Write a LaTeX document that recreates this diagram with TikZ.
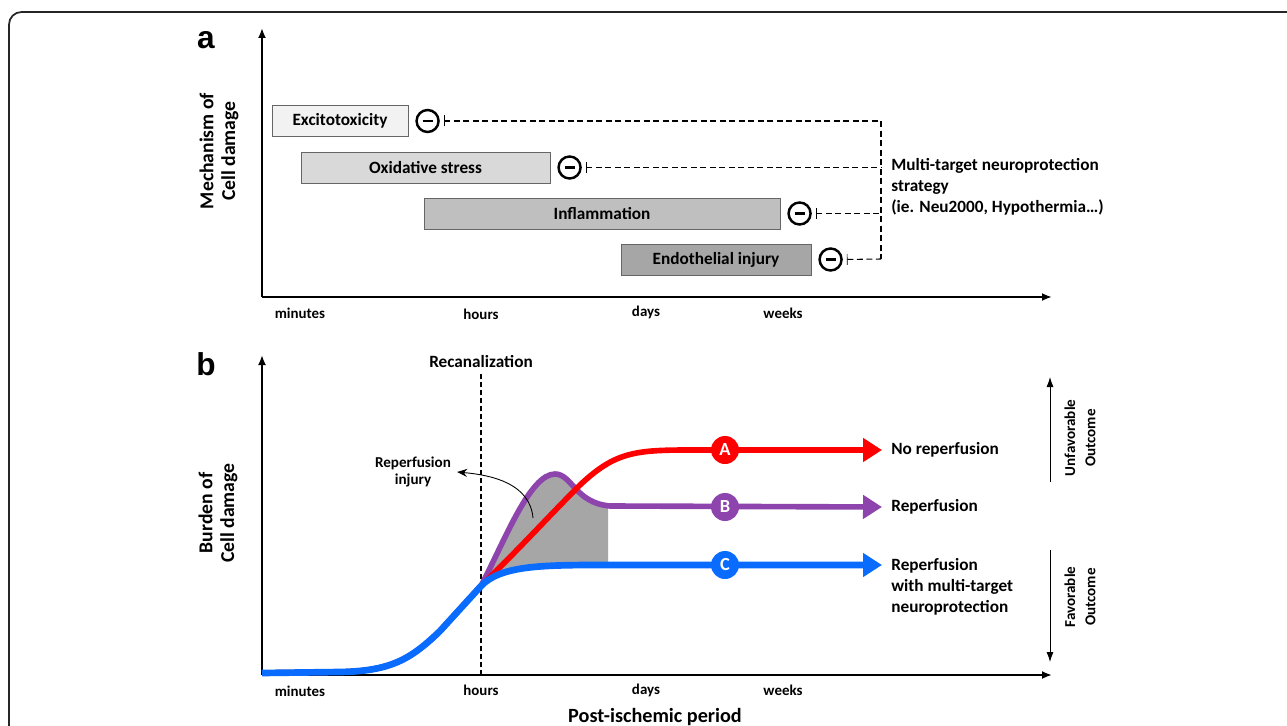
\documentclass[tikz,border=0pt]{standalone}
\usepackage{fontspec}
\setmainfont{Carlito}
\newfontfamily\panelfont{Liberation Sans}
\usetikzlibrary{arrows.meta,positioning,calc}

\newdimen\unitpx
\unitpx=0.02cm
\newcommand{\minusbar}{\rule{0.2cm}{0.055cm}}

\definecolor{mechA}{HTML}{F2F2F2}
\definecolor{mechB}{HTML}{D9D9D9}
\definecolor{mechC}{HTML}{BFBFBF}
\definecolor{mechD}{HTML}{A6A6A6}
\definecolor{curveA}{HTML}{FF0000}
\definecolor{curveB}{HTML}{8E44AD}
\definecolor{curveC}{HTML}{0A6CFF}
\definecolor{injury}{HTML}{A6A6A6}

\tikzset{
  panel/.style={font=\panelfont\bfseries\fontsize{18}{20}\selectfont},
  txt/.style={font=\bfseries\fontsize{9.8}{12}\selectfont},
  tick/.style={font=\bfseries\fontsize{8.5}{10}\selectfont},
  ylab/.style={font=\bfseries\fontsize{11.2}{12.5}\selectfont, rotate=90, align=center},
  small/.style={font=\bfseries\fontsize{8.6}{10.2}\selectfont, align=center},
  axis/.style={line width=1.1pt, -{Latex[length=0.2cm,width=0.16cm]}},
  mech/.style={txt, draw=gray!80!black, line width=0.4pt, minimum height=31\unitpx, inner sep=0pt},
  minus/.style={circle, draw, line width=1.4pt, minimum size=22\unitpx, inner sep=0pt},
  inhib/.style={dash pattern=on 0.12cm off 0.07cm, line width=0.6pt, shorten <=4\unitpx},
  tbar/.style={{Bar[width=0.22cm,line width=0.4pt]}-},
  curve/.style={line width=3.2pt, -{Triangle[length=0.38cm,width=0.46cm]}},
  tag/.style={circle, minimum size=28\unitpx, inner sep=0pt, text=white, font=\bfseries\fontsize{10.5}{12}\selectfont},
  outcome/.style={line width=0.5pt, -{Latex[length=0.2cm,width=0.14cm]}},
}

\begin{document}
\begin{tikzpicture}[x=0.02cm, y=-0.02cm]
            \useasboundingbox (0,0) rectangle (1287,726);
            \draw[line width=1pt, black!85, rounded corners=0.25cm] (9,790) -- (9,12) -- (1340,12);

            % panel a
            \node[panel] (lblA) at (206,40) {a};
            \coordinate (oA) at (262,297);
            \draw[axis] (oA) -- (262,28);
            \draw[axis] (oA) -- (1052,297);
            \node[tick] (tA1) at (300,313) {minutes};
            \node[tick] (tA2) at (481,314) {hours};
            \node[tick] (tA3) at (646,312) {days};
            \node[tick] (tA4) at (783,313) {weeks};
            \node[ylab] (mechLbl) at (219,151) {Mechanism of\\Cell damage};

            \node[mech, fill=mechA, minimum width=136\unitpx] (exc) at (340,121) {Excitotoxicity};
            \node[mech, fill=mechB, minimum width=249\unitpx] (oxi) at (425.5,167.5) {Oxidative stress};
            \node[mech, fill=mechC, minimum width=356\unitpx] (infl) at (602,213.5) {Inflammation};
            \node[mech, fill=mechD, minimum width=190\unitpx] (endo) at (716,259.5) {Endothelial injury};

            \node[minus, right=0.14cm of exc] (m1) {\minusbar};
            \node[minus, right=0.14cm of oxi] (m2) {\minusbar};
            \node[minus, right=0.14cm of infl] (m3) {\minusbar};
            \node[minus, right=0.14cm of endo] (m4) {\minusbar};

            \node[txt, align=left, anchor=west, inner sep=0pt] (strat) at (891,187) {Multi-target neuroprotection\\strategy\\(ie. Neu2000, Hypothermia…)};
            \coordinate (sTop) at (881,121);
            \coordinate (sBot) at (881,259);
            \draw[inhib, tbar] (m1.east) -- (sTop) -- (sBot);
            \draw[inhib, tbar] (m2.east) -- (m2.east -| sTop);
            \draw[inhib, tbar] (m3.east) -- (m3.east -| sTop);
            \draw[inhib, tbar] (m4.east) -- (sBot);

            % panel b
            \node[panel] (lblB) at (206,364) {b};
            \coordinate (oB) at (262,675);
            \draw[axis] (oB) -- (262,355);
            \draw[axis] (oB) -- (1052,675);
            \node[tick] (tB1) at (300,691) {minutes};
            \node[tick] (tB2) at (481,690) {hours};
            \node[tick] (tB3) at (646,690) {days};
            \node[tick] (tB4) at (783,690) {weeks};
            \node[ylab] (burdLbl) at (218,513) {Burden of\\Cell damage};
            \node[txt, font=\bfseries\fontsize{11.5}{13}\selectfont] (postLbl) at (655,717) {Post-ischemic period};

            \node[txt] (recan) at (481,362) {Recanalization};
            \coordinate (recanBot) at (481,675);
            \draw[dash pattern=on 0.1cm off 0.06cm, line width=0.8pt] (recan.south) -- (recanBot);

            \node[txt, anchor=west, inner sep=0pt] (noRep) at (891,450) {No reperfusion};
            \node[txt, anchor=west, inner sep=0pt] (rep) at (891,507) {Reperfusion};
            \node[txt, anchor=west, align=left, inner sep=0pt] (repNp) at (891,587) {Reperfusion\\with multi-target\\neuroprotection};

            % shaded reperfusion injury
            \begin{scope}
              \clip (481,380) rectangle (608,600);
              \fill[injury] (481,586) .. controls (505,540) and (530,474) .. (555,474) .. controls (572,474) and (575,503) .. (610,506) -- (640,507) -- (640,565) -- (600,565) .. controls (540,565) and (500,566) .. (481,586) -- cycle;
            \end{scope}

            \draw[curve, curveB] (262,673) -- (340,672) .. controls (390,671) and (410,660) .. (440,631) -- (481,586) .. controls (505,540) and (530,474) .. (555,474) .. controls (572,474) and (575,503) .. (610,506) -- ($(rep.west)+(-9,0)$);
            \draw[curve, curveA] (262,673) -- (340,672) .. controls (390,671) and (410,660) .. (440,631) -- (481,586) .. controls (520,548) and (550,515) .. (580,485) .. controls (615,452) and (635,450) .. (690,450) -- ($(noRep.west)+(-9,0)$);
            \draw[curve, curveC, line width=3.8pt] (262,673) -- (340,672) .. controls (390,671) and (410,660) .. (440,631) -- (481,586) .. controls (500,566) and (540,565) .. (600,565) -- (882,565);

            \node[tag, fill=curveA] (tagA) at (725,450) {A};
            \node[tag, fill=curveB] (tagB) at (725,507) {B};
            \node[tag, fill=curveC] (tagC) at (725,565) {C};

            \node[small] (rinj) at (413,472) {Reperfusion\\injury};
            \coordinate (injPt) at (533,518);
            \draw[line width=0.5pt, -{Stealth[length=0.2cm,width=0.16cm]}] (injPt) to[out=95, in=-5] (rinj.east);

            \coordinate (upTail) at (1050,482);
            \coordinate (upTip) at (1050,377);
            \coordinate (dnTail) at (1050,550);
            \coordinate (dnTip) at (1050,662);
            \draw[outcome] (upTail) -- (upTip);
            \draw[outcome] (dnTail) -- (dnTip);
            \node[small, rotate=90, font=\bfseries\fontsize{8.6}{11.4}\selectfont] (unfav) at (1080,438) {Unfavorable\\Outcome};
            \node[small, rotate=90, font=\bfseries\fontsize{8.6}{11.4}\selectfont] (fav) at (1080,597) {Favorable\\Outcome};
          \end{tikzpicture}
\end{document}
